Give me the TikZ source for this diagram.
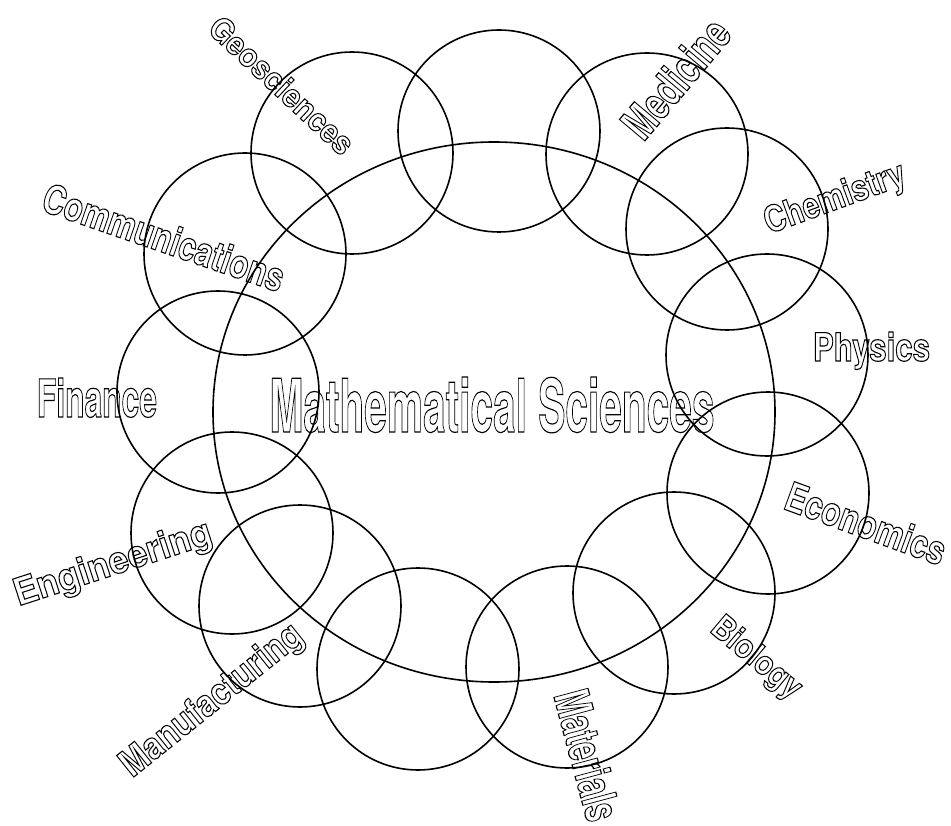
\documentclass[tikz,border=0pt]{standalone}
\usepackage{fontspec}
\setmainfont{TeX Gyre Heros}
\usepackage{graphicx}
\newcommand\outl[1]{\special{pdf:code 1 Tr 1.15 w}#1\special{pdf:code 0 Tr}}
\newcommand\lbl[4]{\raisebox{0pt}[#3][0pt]{\resizebox{#2}{#3}{\fontsize{#1}{#1}\selectfont\bfseries\outl{#4}}}}
\begin{document}
\begin{tikzpicture}[x=1pt,y=-1pt,
  ring/.style={draw=black,line width=1.6pt},
  lab/.style={inner sep=0pt,outer sep=0pt,anchor=center}]
\useasboundingbox (0,0) rectangle (951,826);
% labels
\node[lab] (math) at (492,404.5) {\lbl{72pt}{445pt}{55pt}{Mathematical Sciences}};
\node[lab,rotate=-43] (geo) at (282,85) {\lbl{36pt}{185pt}{24pt}{Geosciences}};
\node[lab,rotate=50] (med) at (675.5,78) {\lbl{44pt}{140pt}{34pt}{Medicine}};
\node[lab,rotate=20] (chem) at (834,196) {\lbl{38pt}{148pt}{27pt}{Chemistry}};
\node[lab] (phys) at (871.5,346.5) {\lbl{40pt}{117pt}{29pt}{Physics}};
\node[lab,rotate=-20] (econ) at (866,523) {\lbl{42pt}{168pt}{30pt}{Economics}};
\node[lab,rotate=-40] (bio) at (758,656) {\lbl{36pt}{108pt}{25pt}{Biology}};
\node[lab,rotate=-75] (mat) at (588,755) {\lbl{48pt}{133pt}{36pt}{Materials}};
\node[lab,rotate=38.7] (manu) at (210,698) {\lbl{40pt}{222pt}{28pt}{Manufacturing}};
\node[lab,rotate=18] (eng) at (112,561) {\lbl{40pt}{206pt}{28pt}{Engineering}};
\node[lab] (fin) at (97,397.5) {\lbl{52pt}{120pt}{39pt}{Finance}};
\node[lab,rotate=-19] (comm) at (164,237) {\lbl{42pt}{253pt}{30pt}{Communications}};
% circles
\foreach \cx/\cy in {352/153, 499/131, 647/154, 727/229, 767/355, 768/493,
                    674/593, 567/667, 418/669, 300/606, 232/533, 218/392, 245/254}
  \draw[ring] (\cx,\cy) circle[radius=101pt];
% central ellipse
\draw[ring] (494,412) ellipse[x radius=281pt, y radius=270pt];
\end{tikzpicture}
\end{document}
